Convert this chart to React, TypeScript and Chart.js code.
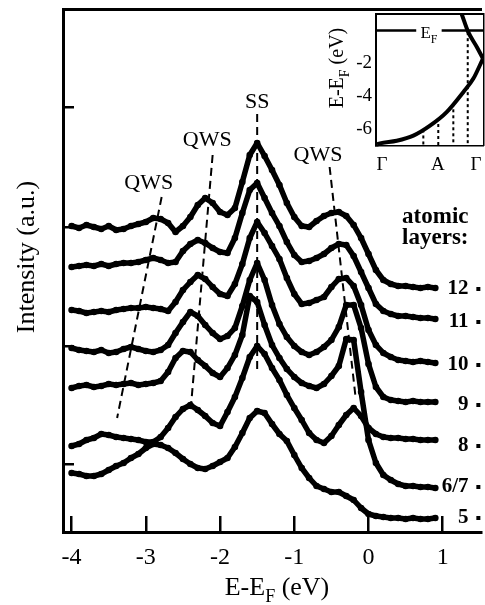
import React, { useEffect, useRef } from 'react';
import { Chart, registerables } from 'chart.js';

Chart.register(...registerables);

const FONT = "'Liberation Serif', 'Times New Roman', Times, serif";

// ================= Main panel data =================
// binding energy E-EF (eV)
const energies = [
  -4.0, -3.9, -3.8, -3.7, -3.6, -3.5, -3.4, -3.3, -3.2, -3.1,
  -3.0, -2.9, -2.8, -2.7, -2.6, -2.5, -2.4, -2.3, -2.2, -2.1,
  -2.0, -1.9, -1.8, -1.7, -1.6, -1.5, -1.4, -1.3, -1.2, -1.1,
  -1.0, -0.9, -0.8, -0.7, -0.6, -0.5, -0.4, -0.3, -0.2, -0.1,
  0.0, 0.1, 0.2, 0.3, 0.4, 0.5, 0.6, 0.7, 0.8, 0.9,
];

// intensities (a.u., curves offset vertically)
const layer12 = [
  306, 304, 307, 305, 303, 306, 302, 303, 306, 308,
  310, 314, 313, 309, 300, 306, 315, 327, 334, 329,
  320, 317, 324, 350, 377, 389, 376, 362, 347, 329,
  315, 306, 305, 311, 316, 319, 320, 316, 307, 294,
  278, 262, 252, 248, 246, 246, 245, 244, 245, 244,
];
const layer11 = [
  265, 266, 267, 266, 268, 266, 268, 269, 269, 270,
  272, 274, 272, 269, 270, 281, 288, 292, 289, 284,
  280, 279, 294, 319, 342, 349, 334, 319, 306, 290,
  277, 270, 271, 274, 278, 284, 288, 287, 276, 260,
  244, 228, 221, 218, 216, 216, 215, 214, 214, 213,
];
const layer10 = [
  222, 221, 219, 220, 221, 220, 222, 223, 224, 224,
  225, 224, 223, 221, 230, 242, 250, 257, 253, 245,
  238, 236, 248, 268, 294, 310, 299, 286, 273, 254,
  238, 228, 229, 232, 235, 245, 253, 254, 246, 227,
  202, 187, 179, 175, 172, 171, 170, 171, 170, 169,
];
const layer9 = [
  184, 182, 181, 180, 182, 179, 180, 183, 185, 183,
  181, 180, 182, 187, 199, 210, 220, 216, 207, 199,
  193, 196, 204, 226, 252, 269, 252, 227, 208, 195,
  186, 180, 177, 180, 185, 192, 205, 227, 227, 204,
  168, 145, 135, 132, 131, 130, 131, 130, 130, 130,
];
const layer8 = [
  86, 88, 92, 94, 98, 97, 95, 94, 93, 92,
  90, 90, 95, 104, 115, 123, 127, 122, 116, 109,
  106, 120, 135, 154, 175, 186, 178, 164, 152, 137,
  124, 112, 99, 92, 89, 96, 107, 117, 124, 116,
  104, 98, 95, 94, 94, 93, 93, 92, 92, 92,
];
const layer67 = [
  144, 146, 147, 145, 146, 148, 147, 148, 149, 147,
  148, 149, 151, 160, 174, 181, 180, 172, 166, 159,
  155, 164, 177, 197, 236, 230, 207, 187, 174, 163,
  155, 149, 146, 144, 148, 156, 166, 193, 192, 140,
  92, 69, 57, 52, 48, 46, 46, 45, 45, 44,
];
const layer5 = [
  59, 58, 56, 56, 58, 62, 66, 69, 74, 78,
  84, 88, 87, 84, 79, 73, 68, 64, 63, 66,
  70, 74, 85, 99, 114, 121, 119, 108, 98, 91,
  77, 64, 54, 46, 43, 40, 40, 36, 32, 24,
  18, 16, 15, 14, 14, 13, 14, 13, 13, 14,
];

const layerNames = ['12', '11', '10', '9', '8', '6/7', '5'];
const spectra = [layer12, layer11, layer10, layer9, layer8, layer67, layer5];
const layerLabelY = [238, 205, 162, 122, 81, 40, 9];

const xTickValues = [-4, -3, -2, -1, 0, 1];
const intensityTicks = [68, 186, 305, 425];

// dashed guide lines (peak dispersion)
const ssGuideX = [-1.5, -1.5];
const ssGuideY = [418, 160];
const qwsGuideLeftX = [-2.787, -3.387];
const qwsGuideLeftY = [335, 114];
const qwsGuideMidX = [-2.1, -2.4];
const qwsGuideMidY = [377, 119];
const qwsGuideRightX = [-0.524, -0.173];
const qwsGuideRightY = [365, 134];

// peak labels
const peakLabels = ['QWS', 'QWS', 'SS', 'QWS'];
const peakLabelX = [-2.96, -2.173, -1.5, -0.68];
const peakLabelY = [343, 386, 424, 371];
const headingLines = ['atomic', 'layers:'];
const headingY = [309, 288];

// ================= Inset data =================
const kTickPos = [0.047, 0.575, 0.934];
const kTickLabels = ['Γ', 'A', 'Γ'];
const insetETicks = [-6, -5, -4, -3, -2, -1];
const bandK = [0, 0.028, 0.186, 0.343, 0.5, 0.657, 0.814, 0.909, 1.0];
const bandE = [-6.96, -6.9, -6.74, -6.43, -5.82, -4.99, -3.77, -2.94, -1.71];
const foldK = [0.77, 0.802, 0.858, 0.943, 1.0];
const foldE = [1.5, 0.95, -0.05, -1.02, -1.71];
const fermiK = [0, 0.37, 0.49, 0.61, 1.0];
const fermiE = [0, 0, null, 0, 0];
const dropK = [0.437, 0.578, 0.72, 0.856];
const dropTopE = [-6.05, -5.35, -4.45, -0.1];
const dropBottomE = -7;
const efLabelK = 0.49;
const efLabelE = -0.46;

// ================= Layout (pixels / positions) =================
const W = 485;
const H = 605;
const X_MIN = -4.116;
const X_MAX = 1.525;
const Y_MIN = 0;
const Y_MAX = 523;
const LABEL_RIGHT_X = 1.347;
const MARKER_X = 1.48;
const INSET_LEFT = 318;
const INSET_W = 167;
const INSET_H = 180;

type Seg = { t: string; sub?: boolean; bold?: boolean };

function drawRich(ctx: CanvasRenderingContext2D, segs: Seg[], x: number, y: number, size: number, align: string) {
  const subSize = Math.round(size * 0.7);
  const fontFor = (s: Seg) => `${s.bold ? 'bold ' : ''}${s.sub ? subSize : size}px ${FONT}`;
  const widths = segs.map((s) => {
    ctx.font = fontFor(s);
    return ctx.measureText(s.t).width;
  });
  let total = 0;
  widths.forEach((w) => (total += w));
  let cx = align === 'center' ? x - total / 2 : align === 'right' ? x - total : x;
  ctx.textAlign = 'left';
  ctx.textBaseline = 'alphabetic';
  segs.forEach((s, i) => {
    ctx.font = fontFor(s);
    ctx.fillText(s.t, cx, y + (s.sub ? size * 0.28 : 0));
    cx += widths[i];
  });
}

const fixBox = (w?: number, h?: number) => (s: any) => {
  if (w !== undefined) s.width = w;
  if (h !== undefined) s.height = h;
  s.paddingLeft = 0;
  s.paddingRight = 0;
  s.paddingTop = 0;
  s.paddingBottom = 0;
};

const mainTextPlugin = {
  id: 'mainText',
  afterDatasetsDraw(chart: any) {
    const { ctx } = chart;
    const xs = chart.scales.x;
    const ys = chart.scales.y;
    ctx.save();
    ctx.fillStyle = '#000';
    // peak labels
    peakLabels.forEach((t, i) => {
      drawRich(ctx, [{ t }], xs.getPixelForValue(peakLabelX[i]), ys.getPixelForValue(peakLabelY[i]), 22, 'center');
    });
    // heading
    headingLines.forEach((t, i) => {
      drawRich(ctx, [{ t, bold: true }], xs.getPixelForValue(LABEL_RIGHT_X), ys.getPixelForValue(headingY[i]), 23, 'right');
    });
    // layer labels with small markers
    layerNames.forEach((t, i) => {
      const py = ys.getPixelForValue(layerLabelY[i]);
      drawRich(ctx, [{ t, bold: true }], xs.getPixelForValue(LABEL_RIGHT_X), py, 21, 'right');
      const mx = xs.getPixelForValue(MARKER_X);
      ctx.fillRect(mx - 2, py - 7, 4, 4);
    });
    // x axis title
    drawRich(ctx, [{ t: 'E-E' }, { t: 'F', sub: true }, { t: ' (eV)' }], 277, 595, 26, 'center');
    // y axis title
    ctx.save();
    ctx.translate(34, 257);
    ctx.rotate(-Math.PI / 2);
    drawRich(ctx, [{ t: 'Intensity (a.u.)' }], 0, 0, 26, 'center');
    ctx.restore();
    ctx.restore();
  },
};

const insetPlugin = {
  id: 'insetText',
  beforeDatasetsDraw(chart: any) {
    const { ctx, chartArea } = chart;
    ctx.save();
    ctx.fillStyle = '#fff';
    ctx.fillRect(chartArea.left, chartArea.top, chartArea.right - chartArea.left, chartArea.bottom - chartArea.top);
    ctx.restore();
  },
  afterDatasetsDraw(chart: any) {
    const { ctx } = chart;
    const xs = chart.scales.x;
    const ys = chart.scales.y;
    ctx.save();
    ctx.fillStyle = '#000';
    drawRich(ctx, [{ t: 'E' }, { t: 'F', sub: true }], xs.getPixelForValue(efLabelK), ys.getPixelForValue(efLabelE), 17, 'center');
    ctx.translate(25, 68);
    ctx.rotate(-Math.PI / 2);
    drawRich(ctx, [{ t: 'E-E' }, { t: 'F', sub: true }, { t: ' (eV)' }], 0, 0, 20, 'center');
    ctx.restore();
  },
};

const lineDs = (xv: number[], yv: (number | null)[], extra: any) => ({
  data: xv.map((v, i) => ({ x: v, y: yv[i] })),
  borderColor: '#000',
  backgroundColor: '#000',
  pointRadius: 0,
  pointHoverRadius: 0,
  fill: false,
  tension: 0,
  xAxisID: 'x',
  yAxisID: 'y',
  ...extra,
});

export default function App() {
  const mainRef = useRef<HTMLCanvasElement>(null);
  const insetRef = useRef<HTMLCanvasElement>(null);

  useEffect(() => {
    const spectraDs = spectra.map((vals) =>
      lineDs(energies, vals, {
        borderWidth: 5.5,
        pointRadius: 3.3,
        pointHoverRadius: 3.3,
        pointBackgroundColor: '#000',
        pointBorderWidth: 0,
        borderJoinStyle: 'round',
        borderCapStyle: 'round',
      })
    );
    const dashed = { borderWidth: 2, borderDash: [8, 5] };
    const guideDs = [
      lineDs(ssGuideX, ssGuideY, dashed),
      lineDs(qwsGuideLeftX, qwsGuideLeftY, dashed),
      lineDs(qwsGuideMidX, qwsGuideMidY, dashed),
      lineDs(qwsGuideRightX, qwsGuideRightY, dashed),
    ];

    const main = new Chart(mainRef.current as HTMLCanvasElement, {
      type: 'line',
      data: { datasets: [...spectraDs, ...guideDs] as any },
      plugins: [mainTextPlugin],
      options: {
        animation: false,
        responsive: false,
        events: [],
        layout: { padding: 0 },
        plugins: { legend: { display: false }, tooltip: { enabled: false }, title: { display: false } },
        scales: {
          x: {
            type: 'linear',
            position: 'bottom',
            min: X_MIN,
            max: X_MAX,
            afterFit: fixBox(undefined, H - 532),
            afterBuildTicks: (s: any) => {
              s.ticks = xTickValues.map((v) => ({ value: v }));
            },
            border: { display: true, color: '#000', width: 3 },
            grid: { display: true, drawOnChartArea: false, drawTicks: true, tickLength: -16, color: '#000', lineWidth: 2.5 },
            ticks: {
              color: '#000',
              font: { family: FONT, size: 24 },
              padding: 27.6,
              maxRotation: 0,
              autoSkip: false,
              callback: (v: any) => String(v),
            },
          },
          xTop: {
            type: 'linear',
            position: 'top',
            min: X_MIN,
            max: X_MAX,
            afterFit: fixBox(undefined, 9),
            border: { display: true, color: '#000', width: 3 },
            grid: { display: false },
            ticks: { display: false },
          },
          y: {
            type: 'linear',
            position: 'left',
            min: Y_MIN,
            max: Y_MAX,
            afterFit: fixBox(63, undefined),
            afterBuildTicks: (s: any) => {
              s.ticks = intensityTicks.map((v) => ({ value: v }));
            },
            border: { display: true, color: '#000', width: 3 },
            grid: { display: true, drawOnChartArea: false, drawTicks: true, tickLength: -11, color: '#000', lineWidth: 2.5 },
            ticks: { display: false },
          },
        },
      } as any,
    });

    const insetDs = [
      lineDs(bandK, bandE, { borderWidth: 4, cubicInterpolationMode: 'monotone' }),
      lineDs(foldK, foldE, { borderWidth: 4, cubicInterpolationMode: 'monotone' }),
      lineDs(fermiK, fermiE, { borderWidth: 2.5, spanGaps: false }),
      ...dropK.map((k, i) => lineDs([k, k], [dropTopE[i], dropBottomE], { borderWidth: 2, borderDash: [3, 3] })),
    ];

    const inset = new Chart(insetRef.current as HTMLCanvasElement, {
      type: 'line',
      data: { datasets: insetDs as any },
      plugins: [insetPlugin],
      options: {
        animation: false,
        responsive: false,
        events: [],
        layout: { padding: 0 },
        plugins: { legend: { display: false }, tooltip: { enabled: false }, title: { display: false } },
        scales: {
          x: {
            type: 'linear',
            position: 'bottom',
            min: 0,
            max: 1,
            afterFit: fixBox(undefined, INSET_H - 145),
            afterBuildTicks: (s: any) => {
              s.ticks = kTickPos.map((v) => ({ value: v }));
            },
            border: { display: true, color: '#000', width: 3.5 },
            grid: { display: true, drawOnChartArea: false, drawTicks: false },
            ticks: {
              color: '#000',
              font: { family: FONT, size: 19 },
              padding: 9,
              maxRotation: 0,
              autoSkip: false,
              callback: (_v: any, i: number) => kTickLabels[i],
            },
          },
          xTop: {
            type: 'linear',
            position: 'top',
            min: 0,
            max: 1,
            afterFit: fixBox(undefined, 15),
            border: { display: true, color: '#000', width: 3.5 },
            grid: { display: false },
            ticks: { display: false },
          },
          y: {
            type: 'linear',
            position: 'left',
            min: -7,
            max: 0.95,
            afterFit: fixBox(377 - INSET_LEFT, undefined),
            afterBuildTicks: (s: any) => {
              s.ticks = insetETicks.map((v) => ({ value: v }));
            },
            border: { display: true, color: '#000', width: 3.5 },
            grid: { display: true, drawOnChartArea: false, drawTicks: true, tickLength: -7, color: '#000', lineWidth: 2.5 },
            ticks: {
              color: '#000',
              font: { family: FONT, size: 19 },
              padding: 12,
              autoSkip: false,
              callback: (v: any) => (v % 2 === 0 ? String(v) : ''),
            },
          },
          yRight: {
            type: 'linear',
            position: 'right',
            min: -7,
            max: 0.95,
            afterFit: fixBox(INSET_W - (483 - INSET_LEFT), undefined),
            border: { display: true, color: '#000', width: 3.5 },
            grid: { display: false },
            ticks: { display: false },
          },
        },
      } as any,
    });

    return () => {
      main.destroy();
      inset.destroy();
    };
  }, []);

  return (
    <div style={{ position: 'absolute', left: 0, top: 0, width: W, height: H, background: '#fff', overflow: 'hidden' }}>
      <canvas ref={mainRef} width={W} height={H} style={{ position: 'absolute', left: 0, top: 0 }} />
      <canvas ref={insetRef} width={INSET_W} height={INSET_H} style={{ position: 'absolute', left: INSET_LEFT, top: 0 }} />
    </div>
  );
}
